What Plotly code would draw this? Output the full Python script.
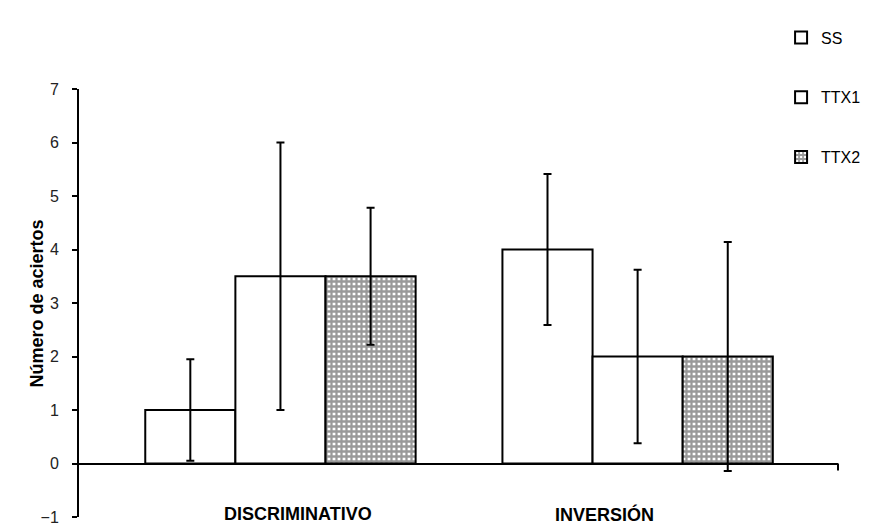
import plotly.graph_objects as go

categories = ["DISCRIMINATIVO", "INVERSIÓN"]
series_names = ["SS", "TTX1", "TTX2"]
ss_values = [1.0, 4.0]
ttx1_values = [3.5, 2.0]
ttx2_values = [3.5, 2.0]
ss_err = [0.95, 1.41]
ttx1_err = [2.5, 1.62]
ttx2_err = [1.28, 2.14]
y_ticks = [-1, 0, 1, 2, 3, 4, 5, 6, 7]
y_title = "Número de aciertos"

FONT = "Arial, 'Liberation Sans', sans-serif"

values = [ss_values, ttx1_values, ttx2_values]
errors = [ss_err, ttx1_err, ttx2_err]

fig = go.Figure()
for name, vals, errs in zip(series_names, values, errors):
    marker = dict(color="white", line=dict(color="black", width=2))
    if name == "TTX2":
        marker["pattern"] = dict(shape="+", size=5, solidity=0.7,
                                 fgcolor="#333333", bgcolor="white")
    fig.add_trace(go.Bar(
        x=categories, y=vals, name=name, marker=marker,
        legendgroup=name,
        error_y=dict(type="data", array=errs, visible=True,
                     color="black", thickness=2, width=4),
    ))

fig.update_layout(
    width=870, height=530,
    margin=dict(l=71, r=31, t=75, b=15),
    paper_bgcolor="white", plot_bgcolor="white",
    barmode="group", bargap=0.243, bargroupgap=0,
    font=dict(family=FONT, size=16, color="black"),
    showlegend=True,
    legend=dict(x=0.925, y=1.16, xanchor="left", yanchor="top",
                font=dict(family=FONT, size=16, color="black"),
                tracegroupgap=36, bgcolor="rgba(0,0,0,0)"),
    xaxis=dict(range=[-0.564, 1.561], showticklabels=False, ticks="",
               showline=False, showgrid=False, zeroline=False, fixedrange=True),
    yaxis=dict(range=[-1, 7], tickvals=y_ticks, ticks="outside", ticklen=5,
               tickwidth=2, tickcolor="black",
               showline=True, linecolor="black", linewidth=2,
               showgrid=False, zeroline=True, zerolinecolor="black",
               zerolinewidth=2, ticklabelstandoff=10,
               tickfont=dict(family=FONT, size=16, color="#222")),
)

# y-axis title
fig.add_annotation(x=-0.0547, y=0.5, xref="paper", yref="paper",
                   xanchor="center", yanchor="middle", textangle=-90,
                   showarrow=False, text="<b>%s</b>" % y_title,
                   font=dict(family=FONT, size=18, color="black"))

# category labels (placed below the plot, as in the original)
shifts = [18, -33]
for cat, sh in zip(categories, shifts):
    fig.add_annotation(x=cat, y=-1, xref="x", yref="y", yanchor="middle",
                       yshift=3, xshift=sh, showarrow=False,
                       text="<b>%s</b>" % cat,
                       font=dict(family=FONT, size=18, color="black"))

# end tick of the category axis
fig.add_shape(type="line", xref="paper", yref="y", x0=1, x1=1,
              ysizemode="pixel", yanchor=0, y0=0, y1=-7,
              line=dict(color="black", width=2))

fig.write_html("out.html")
